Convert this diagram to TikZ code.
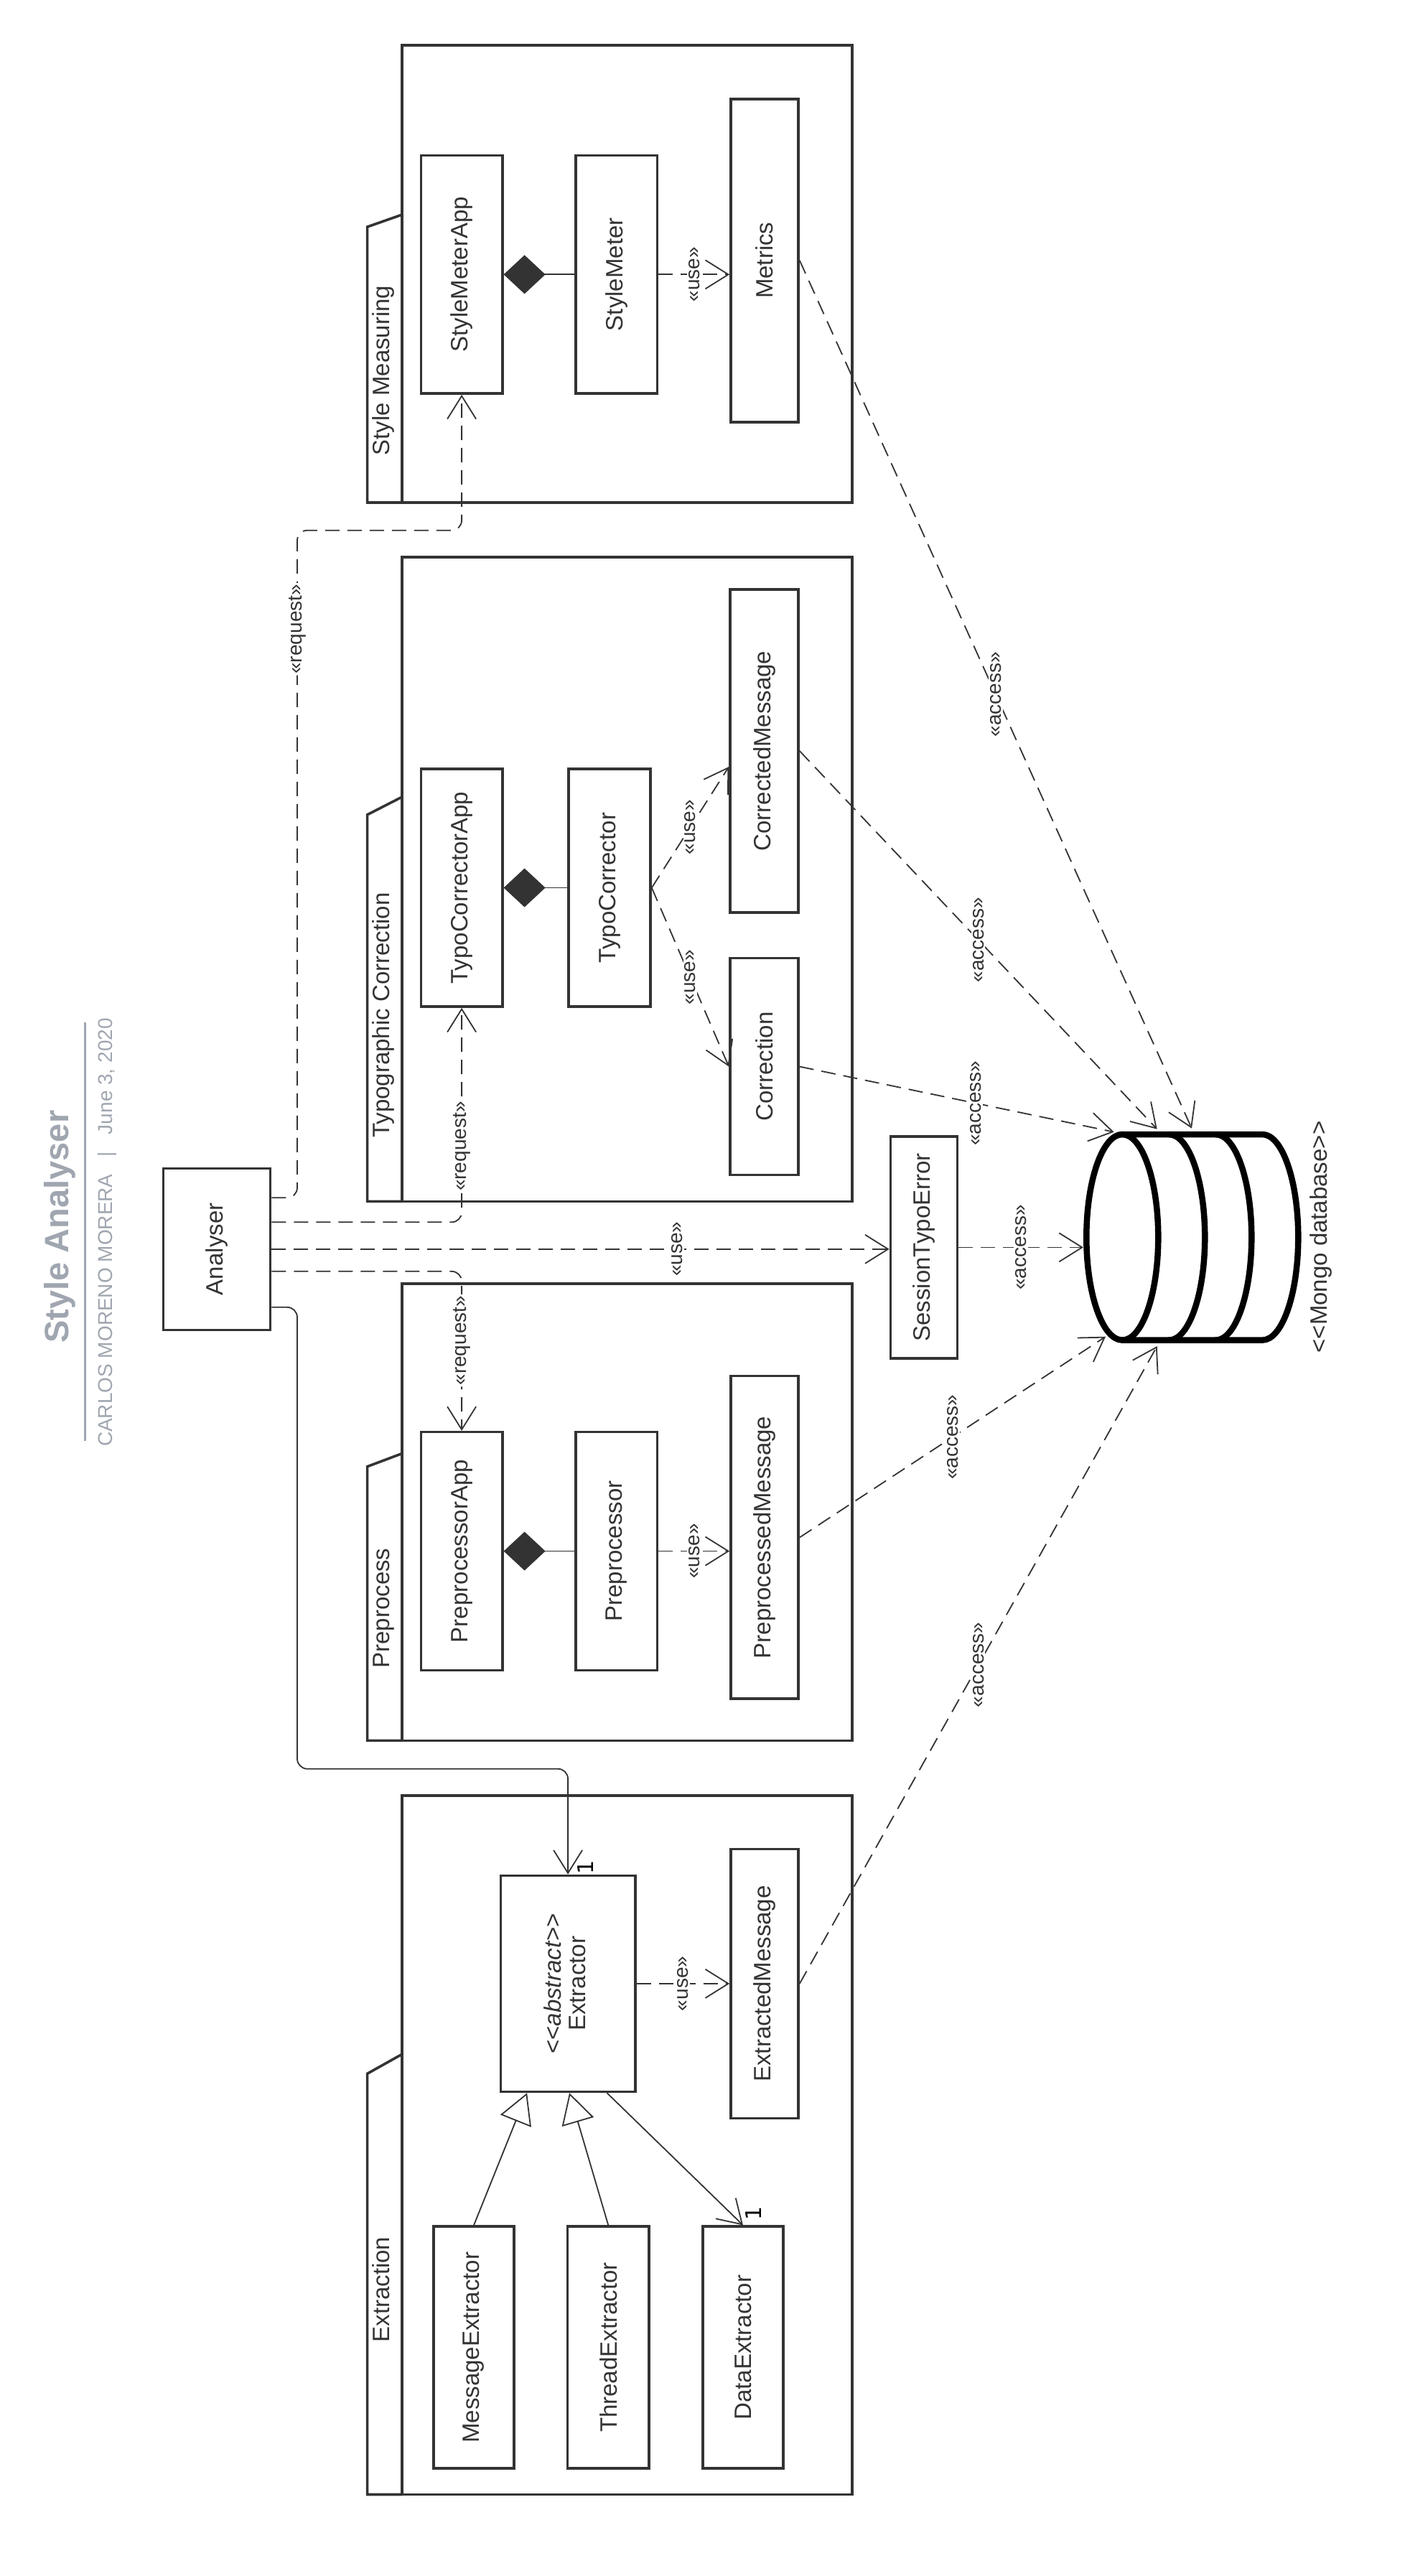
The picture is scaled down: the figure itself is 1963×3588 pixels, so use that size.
\documentclass[tikz,border=0pt]{standalone}
\usepackage{fontspec}
\setmainfont{Liberation Sans}
\newfontfamily\dejavu{DejaVu Sans}
\usetikzlibrary{arrows.meta}
\definecolor{ink}{HTML}{333333}
\definecolor{titlegray}{RGB}{160,166,176}
\begin{document}
\begin{tikzpicture}[x=1pt,y=-1pt,
  box/.style={draw=ink, line width=3.6pt, rectangle, inner sep=0pt, text=ink, font=\fontsize{33}{38}\selectfont},
  pkgbody/.style={draw=ink, line width=3.6pt, rectangle, inner sep=0pt},
  tabline/.style={draw=ink, line width=3.6pt},
  tablbl/.style={rotate=90, anchor=base, text=ink, inner sep=0pt, font=\fontsize{33}{38}\selectfont},
  conn/.style={draw=ink, line width=1.8pt},
  dsh/.style={dash pattern=on 20pt off 11pt},
  vee/.style={-{Straight Barb[length=32pt,width=40pt]}},
  lbl/.style={fill=white, text=ink, inner sep=2pt, rotate=90, font=\fontsize{28}{32}\selectfont},
  mult/.style={rotate=90, text=black, inner sep=0pt, font=\dejavu\fontsize{30}{34}\selectfont},
  dbline/.style={draw=black, line width=8.5pt, line join=round, line cap=round}
]
\path[fill=white] (0,0) rectangle (1963,3588);
\useasboundingbox (0,0) rectangle (1963,3588);

% ---------- title ----------
\node[rotate=90, anchor=base, inner sep=0pt, text=titlegray, font=\fontsize{47}{56}\selectfont\bfseries] (title) at (95.4,1708.5) {Style Analyser};
\draw[titlegray, line width=3pt] (118,1424) -- (118,2007);
\node[rotate=90, anchor=base, inner sep=0pt, text=titlegray, font=\fontsize{28}{32}\selectfont] (subtitle) at (156.7,1716.5) {CARLOS MORENO MORERA\hspace{24pt}|\hspace{24pt}June 3, 2020};

% ---------- packages ----------
\node[pkgbody, minimum width=627pt, minimum height=637pt] (pSM) at (873.5,381.5) {};
\draw[tabline] (560,299) -- (511.6,316) -- (511.6,700) -- (560,700);
\node[tablbl] (tSM) at (542.5,516) {Style Measuring};

\node[pkgbody, minimum width=627pt, minimum height=897.4pt] (pTC) at (873.5,1224.7) {};
\draw[tabline] (560,1110) -- (511.6,1134.8) -- (511.6,1673.4) -- (560,1673.4);
\node[tablbl] (tTC) at (542.5,1414) {Typographic Correction};

\node[pkgbody, minimum width=627pt, minimum height=636.2pt] (pPP) at (873.5,2106.3) {};
\draw[tabline] (560,2024.5) -- (511.6,2042.7) -- (511.6,2424.4) -- (560,2424.4);
\node[tablbl] (tPP) at (542.5,2240) {Preprocess};

\node[pkgbody, minimum width=627pt, minimum height=973.7pt] (pEX) at (873.5,2987.65) {};
\draw[tabline] (560,2861.2) -- (511.6,2888.3) -- (511.6,3474.5) -- (560,3474.5);
\node[tablbl] (tEX) at (542.5,3189) {Extraction};

% ---------- classes ----------
\node[box, minimum width=113.4pt, minimum height=331.5pt] (smapp) at (643.1,382.3) {\rotatebox{90}{StyleMeterApp}};
\node[box, minimum width=113.6pt, minimum height=331.5pt] (sm) at (858.8,382.3) {\rotatebox{90}{StyleMeter}};
\node[box, minimum width=94pt, minimum height=450pt] (metrics) at (1065,362.7) {\rotatebox{90}{Metrics}};

\node[box, minimum width=113.4pt, minimum height=331pt] (tcapp) at (643.1,1236.5) {\rotatebox{90}{TypoCorrectorApp}};
\node[box, minimum width=114pt, minimum height=331pt] (tc) at (849,1236.5) {\rotatebox{90}{TypoCorrector}};
\node[box, minimum width=95pt, minimum height=450pt] (cm) at (1064.5,1046) {\rotatebox{90}{CorrectedMessage}};
\node[box, minimum width=95pt, minimum height=302pt] (corr) at (1064.5,1485.6) {\rotatebox{90}{Correction}};

\node[box, minimum width=113.4pt, minimum height=331.7pt] (ppapp) at (643.1,2160.5) {\rotatebox{90}{PreprocessorApp}};
\node[box, minimum width=113.6pt, minimum height=331.7pt] (pp) at (858.8,2160.5) {\rotatebox{90}{Preprocessor}};
\node[box, minimum width=94pt, minimum height=449.7pt] (ppm) at (1065,2141.4) {\rotatebox{90}{PreprocessedMessage}};

\node[box, minimum width=187.2pt, minimum height=300.9pt] (ext) at (791.1,2762.9) {\rotatebox{90}{\begin{tabular}{@{}c@{}}<\kern0pt<\textit{abstract}>\kern0pt>\\[-4pt]Extractor\end{tabular}}};
\node[box, minimum width=94pt, minimum height=375pt] (extmsg) at (1065,2762.9) {\rotatebox{90}{ExtractedMessage}};
\node[box, minimum width=112.5pt, minimum height=336.8pt] (msgx) at (660,3269.6) {\rotatebox{90}{MessageExtractor}};
\node[box, minimum width=113.4pt, minimum height=336.8pt] (thx) at (847.3,3269.6) {\rotatebox{90}{ThreadExtractor}};
\node[box, minimum width=112.5pt, minimum height=336.8pt] (datax) at (1035,3269.6) {\rotatebox{90}{DataExtractor}};

\node[box, minimum width=149pt, minimum height=225pt] (an) at (302,1739.8) {\rotatebox{90}{Analyser}};
\node[box, minimum width=93pt, minimum height=308.7pt] (sess) at (1287,1737.4) {\rotatebox{90}{SessionTypoError}};

% ---------- database ----------
\node[draw=none, minimum width=303pt, minimum height=295pt, inner sep=0pt] (db) at (1660.8,1723.3) {};
\draw[dbline] (1563.3,1723.3) ellipse [x radius=50pt, y radius=143.3pt];
\draw[dbline] (1563.3,1580) -- (1758.3,1580) arc[start angle=90, end angle=-90, x radius=50pt, y radius=143.3pt] -- (1563.3,1866.6);
\draw[dbline] (1628.3,1580) arc[start angle=90, end angle=-90, x radius=50pt, y radius=143.3pt];
\draw[dbline] (1693.3,1580) arc[start angle=90, end angle=-90, x radius=50pt, y radius=143.3pt];
\node[rotate=90, text=ink, inner sep=0pt, font=\fontsize{33}{38}\selectfont] (dblbl) at (1840,1723) {<\kern0pt<Mongo database>\kern0pt>};
\coordinate (dbM) at (1660,1571.7);
\coordinate (dbCM) at (1611.7,1572.7);
\coordinate (dbC) at (1551.7,1576.7);
\coordinate (dbS) at (1509,1737.4);
\coordinate (dbP) at (1540,1861.7);
\coordinate (dbE) at (1611.7,1875);

% ---------- compositions ----------
\draw[conn, {Diamond[length=58pt,width=54pt,fill=ink]}-] (smapp.east) -- (sm.west);
\draw[conn, {Diamond[length=58pt,width=54pt,fill=ink]}-] (tcapp.east) -- (tc.west);
\draw[conn, {Diamond[length=58pt,width=54pt,fill=ink]}-] (ppapp.east) -- (pp.west);

% ---------- use ----------
\draw[conn, dsh, vee] (sm.east) -- (sm.east -| metrics.west) node[lbl, midway] {«use»};
\draw[conn, dsh, vee] (tc.east) -- ([yshift=-22pt]cm.west) node[lbl, midway] {«use»};
\draw[conn, dsh, vee] (tc.east) -- (corr.west) node[lbl, midway] {«use»};
\draw[conn, dsh, vee] (pp.east) -- (pp.east -| ppm.west) node[lbl, midway] {«use»};
\draw[conn, dsh, vee] (ext.east) -- (extmsg.west) node[lbl, midway] {«use»};

% ---------- extraction relations ----------
\draw[conn, -{Triangle[length=42pt,width=46pt,fill=white]}] (msgx.north) -- ([xshift=-57pt]ext.south);
\draw[conn, -{Triangle[length=42pt,width=46pt,fill=white]}] (thx.north) -- ([xshift=2pt]ext.south);
\draw[conn, vee] ([xshift=54.4pt]ext.south) -- (datax.north);
\node[mult] (m2) at (1050,3083) {1};

% ---------- analyser ----------
\coordinate (k2) at (414,738.7);
\coordinate (k1) at (414,2463.7);
\draw[conn, dsh, vee, rounded corners=14pt] ([yshift=71.5pt]an.east) -| node[lbl, pos=0.926] {«request»} (k2) -| (smapp.south);
\draw[conn, dsh, vee, rounded corners=14pt] ([yshift=37.5pt]an.east) -| node[lbl, pos=0.677] {«request»} (tcapp.south);
\draw[conn, dsh, vee] (an.east) -- (an.east -| sess.west) node[lbl, pos=0.657] {«use»};
\draw[conn, dsh, vee, rounded corners=14pt] ([yshift=-31pt]an.east) -| node[lbl, pos=0.717] {«request»} (ppapp.north);
\draw[conn, vee, rounded corners=14pt] ([yshift=-81pt]an.east) -| (k1) -| (ext.north);
\node[mult] (m1) at (815.3,2601) {1};

% ---------- access ----------
\draw[conn, dsh, vee] (metrics.east) -- (dbM) node[lbl, midway] {«access»};
\draw[conn, dsh, vee] (cm.east) -- (dbCM) node[lbl, midway] {«access»};
\draw[conn, dsh, vee] (corr.east) -- (dbC) node[lbl, pos=0.56] {«access»};
\draw[conn, dsh, vee] (sess.east) -- (dbS) node[lbl, midway] {«access»};
\draw[conn, dsh, vee] (ppm.east) -- (dbP) node[lbl, midway] {«access»};
\draw[conn, dsh, vee] (extmsg.east) -- (dbE) node[lbl, midway] {«access»};
\end{tikzpicture}
\end{document}
